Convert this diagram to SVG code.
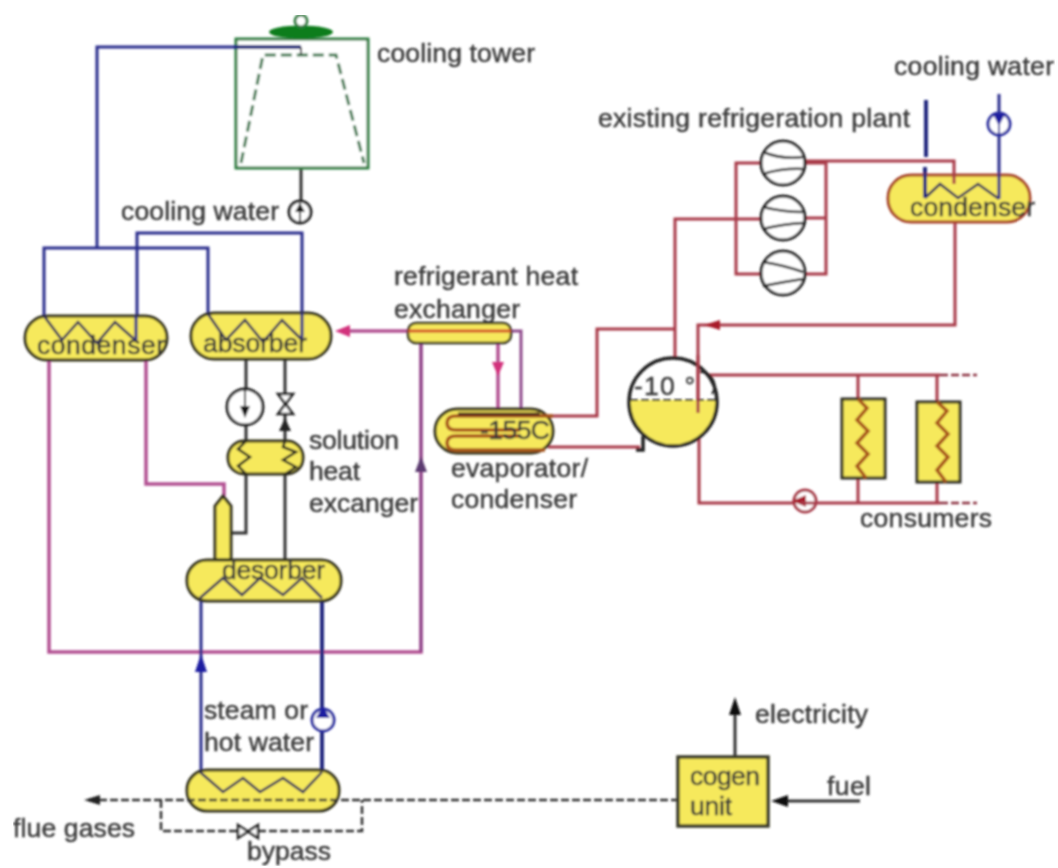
<svg xmlns="http://www.w3.org/2000/svg" width="1058" height="868" viewBox="0 0 1058 868">
<style>
.t{font-family:"Liberation Sans",Arial,sans-serif;font-size:26.5px;fill:#3a3a3a;stroke:#3a3a3a;stroke-width:.45}
.blue{fill:none;stroke:#2b2f8c;stroke-width:3}
.blueb{fill:none;stroke:#242a80;stroke-width:4}
.pink{fill:none;stroke:#b24f92;stroke-width:3.5}
.purple{fill:none;stroke:#8f4a8c;stroke-width:3}
.red{fill:none;stroke:#a83a48;stroke-width:3}
.blk{fill:none;stroke:#333;stroke-width:3}
.dash{fill:none;stroke:#333;stroke-width:2.5;stroke-dasharray:8 3}
.v{fill:#f6e95c;stroke:#33301c;stroke-width:3}
.zig{fill:none;stroke:#2c2a5c;stroke-width:2.5;stroke-linejoin:miter}
.brown{fill:none;stroke:#a8551c;stroke-width:3.5}
.comp{fill:#fff;stroke:#222;stroke-width:3}
.cs{fill:none;stroke:#222;stroke-width:2.5}
</style>
<defs>
<filter id="soft" x="0" y="0" width="100%" height="100%"><feGaussianBlur stdDeviation="0.8"/></filter>
</defs>
<rect width="1058" height="868" fill="#fff"/>
<g filter="url(#soft)">
<g id="connectors">
  <path class="blue" d="M236 47H97V248"/>
  <path class="blue" d="M44 318V248H208V314"/>
  <path class="blk" d="M301 168V200"/>
  <path class="blue" d="M137 318V233H302V314"/>
  <path class="pink" d="M49 360V652H421V343"/>
  <path class="purple" d="M421 652V343"/>
  <polygon points="421,456 415,472 427,472" fill="#5b3a70"/>
  <path class="pink" d="M146 360V484H224V496"/>
  <path class="blk" d="M246 359V390M246 425V441M285 359V395M285 415V441"/>
  <path class="blk" d="M246 474V533H231M285 474V562"/>
  <polygon points="285,418 279,431 291,431" fill="#222"/>
  <path class="pink" d="M408 331H345"/>
  <polygon points="335,331 350,325 350,337" fill="#d2307c"/>
  <path class="pink" d="M498 343V408"/>
  <polygon points="498,376 492,362 504,362" fill="#d2307c"/>
  <path class="purple" d="M511 331H521V410"/>
  <path class="blue" d="M201 598V772"/>
  <polygon points="201,654 195,672 207,672" fill="#1a1aa0"/>
  <path class="blueb" d="M322 598V772"/>
  <path class="dash" d="M88 800H678"/>
  <polygon points="84,800 100,795 100,805" fill="#222"/>
  <path class="dash" d="M161 800V831H238M258 831H362V800"/>
  <path class="blk" d="M735 757V705"/>
  <polygon points="735,697 729,715 741,715" fill="#111"/>
  <path class="blk" d="M860 801H780"/>
  <polygon points="771,801 788,795 788,807" fill="#111"/>
  <path class="red" d="M548 416H597V329H675"/>
  <path class="red" d="M675 358V219H762"/>
  <path class="red" d="M548 447H640"/>
  <path d="M643 436V450H636" fill="none" stroke="#222" stroke-width="3.5"/>
  <path class="red" d="M762 163H736V274H762M805 163H826V274H805M805 218H826"/>
  <path class="red" d="M805 161H954V176"/>
  <path class="red" d="M955 222V325H698V413"/>
  <polygon points="704,325 720,320 720,330" fill="#a81c2c"/>
  <path class="red" d="M708 375H940M699 438V503H794M816 503H940"/>
  <path class="dash" d="M940 375H977M940 503H977" style="stroke:#8a3040"/>
  <path class="red" d="M858 375V399M937 375V402M858 478V503M937 482V503"/>
  <path class="blueb" d="M926 100V157M925 167V198"/>
  <path class="blue" d="M999 94V199"/>
</g>
<g id="cooling-tower">
  <rect x="236" y="39" width="132" height="129" fill="#fff" stroke="#2f7d3f" stroke-width="3"/>
  <path class="blueb" d="M234 47H301"/>
  <path d="M241 163L263 55H336L364 163" fill="none" stroke="#3f7a50" stroke-width="3" stroke-dasharray="11 5"/>
  <path d="M301 47V55" stroke="#333" stroke-width="2"/>
  <ellipse cx="301" cy="32" rx="32" ry="6.5" fill="#0d7d1d"/>
  <circle cx="301" cy="21" r="6" fill="#fff" stroke="#2f7d3f" stroke-width="3"/>
  <text class="t" x="377" y="62" textLength="158">cooling tower</text>
</g>
<g id="pump-cw">
  <circle cx="300" cy="212" r="11" fill="#fff" stroke="#222" stroke-width="3"/>
  <polygon points="300,203 295,212 305,212" fill="#111"/>
  <path d="M300 203V222" stroke="#222" stroke-width="2"/>
  <text class="t" x="121" y="220" textLength="158">cooling water</text>
</g>
<g id="condenser">
  <rect x="25" y="316" width="142" height="44" rx="22" class="v"/>
  <path class="zig" d="M44 316L62 340L78 322L97 343L115 322L135 340"/>
  <path class="blue" d="M136 316V340"/>
  <text class="t" x="37" y="354" textLength="128">condenser</text>
</g>
<g id="absorber">
  <rect x="191" y="313" width="140" height="46" rx="23" class="v"/>
  <path class="zig" d="M208 314L226 340L245 320L263 342L282 320L302 340"/>
  <path class="blue" d="M302 313V340"/>
  <text class="t" x="203" y="352" textLength="104">absorber</text>
</g>
<g id="solution-pump">
  <circle cx="245" cy="407" r="18" fill="#fff" stroke="#222" stroke-width="3"/>
  <polygon points="245,418 240,406 250,406" fill="#111"/>
  <path d="M245 389V410" stroke="#222" stroke-width="2"/>
</g>
<g id="solution-valve">
  <path d="M278 394H293L278 414H293Z" fill="#fff" stroke="#222" stroke-width="2.5"/>
</g>
<g id="solution-heat-exchanger">
  <rect x="228" y="441" width="75" height="33" rx="16" class="v"/>
  <path d="M246 441L238 449L250 457L238 466L246 474M285 441L283 447L296 452L283 460L296 467L285 474" fill="none" stroke="#222" stroke-width="2.5"/>
  <text class="t" x="309" y="449" textLength="90">solution</text>
  <text class="t" x="309" y="480" textLength="51">heat</text>
  <text class="t" x="309" y="512" textLength="109">excanger</text>
</g>
<g id="rectifier">
  <path d="M215 560V506L223 496L231 506V560Z" class="v"/>
</g>
<g id="desorber">
  <rect x="187" y="560" width="154" height="41" rx="20" class="v"/>
  <path class="zig" d="M200 598L223 578L242 595L260 578L283 595L302 578L322 598"/>
  <text class="t" x="222" y="579" textLength="103">desorber</text>
</g>
<g id="boiler">
  <rect x="187" y="770" width="152" height="41" rx="20" class="v"/>
  <path class="zig" d="M200 772L223 792L243 778L260 792L283 778L303 792L322 772"/>
  <path class="dash" d="M187 800H339"/>
  <text class="t" x="204" y="719" textLength="104">steam or</text>
  <text class="t" x="204" y="751" textLength="110">hot water</text>
</g>
<g id="hot-water-pump">
  <circle cx="323" cy="720" r="11" fill="#fff" stroke="#2b2fa0" stroke-width="3"/>
  <polygon points="323,706 316,718 330,718" fill="#1a1aa0"/>
</g>
<g id="bypass-valve">
  <path d="M238 825L258 838V825L238 838Z" fill="#fff" stroke="#222" stroke-width="2.5"/>
  <text class="t" x="247" y="860" textLength="84">bypass</text>
  <text class="t" x="13" y="837" textLength="122">flue gases</text>
</g>
<g id="cogen-unit">
  <rect x="678" y="757" width="90" height="69" fill="#f6e95c" stroke="#3a3a2a" stroke-width="3.5"/>
  <text class="t" x="690" y="785" textLength="70">cogen</text>
  <text class="t" x="690" y="815" textLength="42">unit</text>
  <text class="t" x="755" y="723" textLength="113">electricity</text>
  <text class="t" x="827" y="795" textLength="44">fuel</text>
</g>
<g id="refrigerant-heat-exchanger">
  <rect x="408" y="323" width="103" height="20" rx="8" fill="#f6e95c" stroke="#33301c" stroke-width="2.5"/>
  <path d="M408 331H511" stroke="#d4572a" stroke-width="3"/>
  <text class="t" x="394" y="285" textLength="184">refrigerant heat</text>
  <text class="t" x="394" y="318" textLength="126">exchanger</text>
</g>
<g id="evaporator">
  <rect x="435" y="409" width="118" height="44" rx="22" class="v"/>
  <path class="brown" d="M553 416H456Q447 416 447 423Q447 430 456 430H520M520 436H456Q447 436 447 443Q447 450 456 450H545"/>
  <path d="M458 414H540" stroke="#4a2a1a" stroke-width="3"/>
  <text class="t" x="480" y="439" textLength="70">-155C</text>
  <text class="t" x="451" y="477" textLength="137">evaporator/</text>
  <text class="t" x="451" y="508" textLength="126">condenser</text>
</g>
<g id="separator">
  <path d="M628 400A45 45 0 0 0 718 400Z" fill="#f6e95c"/>
  <circle cx="673" cy="402" r="44" fill="none" stroke="#222" stroke-width="3.5"/>
  <path d="M630 400H716" fill="none" stroke="#333" stroke-width="2" stroke-dasharray="8 3"/>
  <path class="red" d="M698 355V413"/>
  <path d="M700 372A14 14 0 0 1 712 394" fill="none" stroke="#222" stroke-width="2"/>
  <text class="t" x="634" y="395" textLength="61">-10 °</text>
</g>
<g id="compressor-1">
  <circle class="comp" cx="783" cy="163" r="22"/>
  <path class="cs" d="M763 152Q783 160 803 157M763 174Q783 168 803 169"/>
</g>
<g id="compressor-2">
  <circle class="comp" cx="783" cy="218" r="22"/>
  <path class="cs" d="M763 207Q783 212 803 212M763 229Q783 224 803 223"/>
</g>
<g id="compressor-3">
  <circle class="comp" cx="783" cy="273" r="22"/>
  <path class="cs" d="M763 262Q783 265 803 272M763 286Q783 282 803 279"/>
  <text class="t" x="598" y="127" textLength="312">existing refrigeration plant</text>
</g>
<g id="condenser-right">
  <rect x="888" y="175" width="142" height="47" rx="23" fill="#f6e95c" stroke="#a8452c" stroke-width="3"/>
  <path class="zig" d="M925 198L940 184L958 198L978 184L999 199"/>
  <path class="blueb" d="M925 174V198"/>
  <path class="blue" d="M999 174V199"/>
  <path class="red" d="M954 174V184"/>
  <text class="t" x="910" y="216" textLength="125">condenser</text>
  <text class="t" x="894" y="75" textLength="160">cooling water</text>
</g>
<g id="cw-pump-right">
  <circle cx="999" cy="124" r="11" fill="#fff" stroke="#2b2fa0" stroke-width="3"/>
  <polygon points="999,126 993,114 1005,114" fill="#1a1aa0"/>
  <path d="M999 124V135" stroke="#2b2fa0" stroke-width="2"/>
</g>
<g id="consumer-1">
  <rect x="842" y="399" width="43" height="79" fill="#f6e95c" stroke="#2f2f22" stroke-width="3"/>
  <path class="brown" d="M858 399L867 408L857 420L868 431L857 443L868 454L857 466L866 478"/>
</g>
<g id="consumer-2">
  <rect x="917" y="402" width="43" height="80" fill="#f6e95c" stroke="#2f2f22" stroke-width="3"/>
  <path class="brown" d="M937 402L947 411L937 423L948 434L937 446L948 457L937 470L946 482"/>
  <text class="t" x="860" y="527" textLength="132">consumers</text>
</g>
<g id="brine-pump">
  <circle cx="805" cy="501" r="11" fill="#fff" stroke="#a83a48" stroke-width="3"/>
  <polygon points="792,501 806,495 806,507" fill="#a81c2c"/>
  <path d="M800 503H816" stroke="#a83a48" stroke-width="3"/>
</g>
</g>
</svg>
